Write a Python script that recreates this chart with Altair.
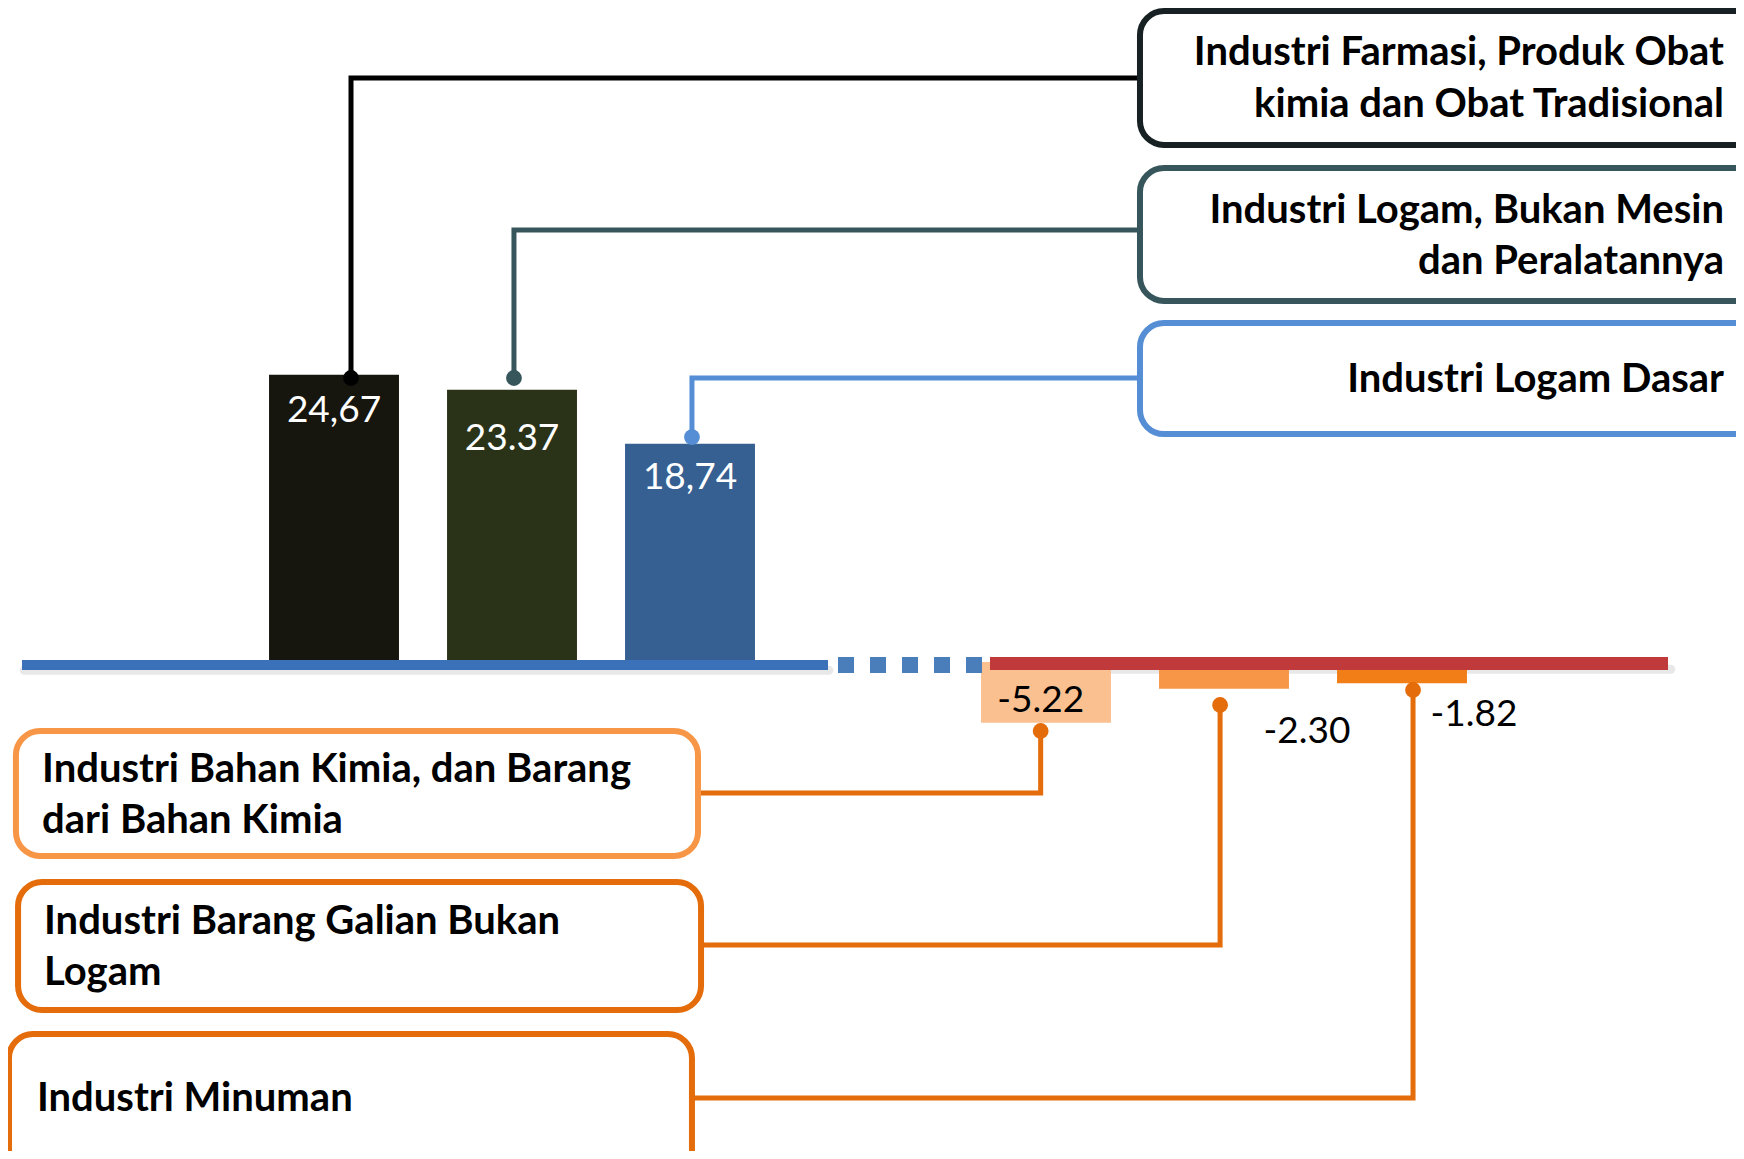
import altair as alt
import pandas as pd

# ---------------- data ----------------
categories = [
    "Industri Farmasi, Produk Obat kimia dan Obat Tradisional",
    "Industri Logam, Bukan Mesin dan Peralatannya",
    "Industri Logam Dasar",
    "Industri Bahan Kimia, dan Barang dari Bahan Kimia",
    "Industri Barang Galian Bukan Logam",
    "Industri Minuman",
]
values = [24.67, 23.37, 18.74, -5.22, -2.30, -1.82]
value_labels = ["24,67", "23.37", "18,74", "-5.22", "-2.30", "-1.82"]
box_lines = [
    ["Industri Farmasi, Produk Obat", "kimia dan Obat Tradisional"],
    ["Industri Logam, Bukan Mesin", "dan Peralatannya"],
    ["Industri Logam Dasar"],
    ["Industri Bahan Kimia, dan Barang", "dari Bahan Kimia"],
    ["Industri Barang Galian Bukan", "Logam"],
    ["Industri Minuman"],
]

# ---------------- styles ----------------
bar_colors = ["#16160F", "#2A3318", "#366092", "#FAC090", "#F79646", "#F27E17"]
box_colors = ["#172022", "#37565C", "#558ED5", "#F79646", "#E46C0A", "#E46C0A"]
line_colors = ["#000000", "#37565C", "#558ED5", "#E46C0A", "#E46C0A", "#E46C0A"]
label_colors = ["white", "white", "white", "black", "black", "black"]
FONT = "Lato"

# ---------------- layout (slot units on x, value units on y) ----------------
slots = [0, 1, 2, 4, 5, 6]
half_w = 0.365
X_DOM = [-1.8315, 7.8764]
Y_DOM = [-41.97, 56.14]
W, H = 1728, 1143

label_xy = [(0, 21.55), (1, 19.14), (2, 15.79), (3.97, -3.35), (5.466, -6.01), (6.404, -4.55)]

# boxes: x0, x1, y_top, y_bottom
boxes = [
    (4.528, 8.3, 55.88, 44.38),
    (4.528, 8.3, 42.40, 30.99),
    (4.528, 8.3, 29.10, 19.57),
    (-1.787, 2.045, -5.92, -16.65),
    (-1.775, 2.062, -18.88, -29.87),
    (-1.826, 2.011, -31.93, -44.6),
]
# text anchor x and line y positions
text_x = [7.809, 7.809, 7.809, -1.640, -1.629, -1.669]
text_y = [[52.27, 47.81], [38.71, 34.33], [24.21], [-9.27, -13.65], [-22.32, -26.70], [-37.51]]
text_align = ["right", "right", "right", "left", "left", "left"]

# connectors: (box side x, horizontal y, vertical x, dot y)
connectors = [
    (4.528, 50.13, 0.0955, 24.38),
    (4.528, 37.08, 1.011, 24.38),
    (4.528, 24.38, 2.011, 19.31),
    (2.045, -11.24, 3.97, -5.92),
    (2.062, -24.29, 4.978, -3.69),
    (2.011, -37.42, 6.062, -2.40),
]

xs = alt.Scale(domain=X_DOM, nice=False, zero=False)
ys = alt.Scale(domain=Y_DOM, nice=False, zero=False)

# ---------------- tables ----------------
bars = pd.DataFrame({
    "cat": categories,
    "value": values,
    "x0": [s - half_w for s in slots],
    "x1": [s + half_w for s in slots],
    "zero": [0.0] * 6,
    "color": bar_colors,
})

labels = pd.DataFrame({
    "label": value_labels,
    "x": [p[0] for p in label_xy],
    "y": [p[1] for p in label_xy],
    "color": label_colors,
})

box_df = pd.DataFrame({
    "x0": [b[0] for b in boxes],
    "x1": [b[1] for b in boxes],
    "yt": [b[2] for b in boxes],
    "yb": [b[3] for b in boxes],
    "color": box_colors,
})

txt_rows = []
for i, lines in enumerate(box_lines):
    for j, ln in enumerate(lines):
        txt_rows.append({"t": ln, "x": text_x[i], "y": text_y[i][j], "side": text_align[i]})
txt_df = pd.DataFrame(txt_rows)

conn_rows = []
dot_rows = []
for i, (bx, hy, vx, dy) in enumerate(connectors):
    conn_rows += [
        {"id": i, "o": 0, "x": bx, "y": hy, "color": line_colors[i]},
        {"id": i, "o": 1, "x": vx, "y": hy, "color": line_colors[i]},
        {"id": i, "o": 2, "x": vx, "y": dy, "color": line_colors[i]},
    ]
    dot_rows.append({"x": vx, "y": dy, "color": line_colors[i]})
conn_df = pd.DataFrame(conn_rows)
dot_df = pd.DataFrame(dot_rows)

base_df = pd.DataFrame({
    "x0": [-1.7528, 3.6854, -1.74, 3.70],
    "x1": [2.7753, 7.4944, 2.78, 7.51],
    "y": [-0.26, -0.13, -0.70, -0.62],
    "kind": ["blue", "red", "shadow", "shadow"],
})
dash_df = pd.DataFrame({"x0": [2.8315], "x1": [3.6404], "y": [-0.26]})

# ---------------- layers ----------------
shadow = alt.Chart(base_df[base_df["kind"] == "shadow"]).mark_rule(
    strokeWidth=9, color="#7F7F7F", opacity=0.18, strokeCap="round"
).encode(x=alt.X("x0:Q", scale=xs, axis=None), x2="x1:Q", y=alt.Y("y:Q", scale=ys, axis=None))

conn = alt.Chart(conn_df).mark_line(strokeWidth=5, strokeCap="butt", strokeJoin="miter").encode(
    x=alt.X("x:Q", scale=xs, axis=None),
    y=alt.Y("y:Q", scale=ys, axis=None),
    detail="id:N",
    order="o:Q",
    color=alt.Color("color:N", scale=None),
)

bar_layer = alt.Chart(bars).mark_rect().encode(
    x=alt.X("x0:Q", scale=xs, axis=None),
    x2="x1:Q",
    y=alt.Y("value:Q", scale=ys, axis=None),
    y2="zero:Q",
    color=alt.Color("color:N", scale=None),
)

blue_line = alt.Chart(base_df[base_df["kind"] == "blue"]).mark_rule(
    strokeWidth=10, color="#3B71B9", strokeCap="butt"
).encode(x=alt.X("x0:Q", scale=xs, axis=None), x2="x1:Q", y=alt.Y("y:Q", scale=ys, axis=None))

red_line = alt.Chart(base_df[base_df["kind"] == "red"]).mark_rule(
    strokeWidth=13, color="#C0393B", strokeCap="butt"
).encode(x=alt.X("x0:Q", scale=xs, axis=None), x2="x1:Q", y=alt.Y("y:Q", scale=ys, axis=None))

dash_line = alt.Chart(dash_df).mark_rule(
    strokeWidth=16, color="#4A7EBB", strokeCap="butt", strokeDash=[16, 16]
).encode(x=alt.X("x0:Q", scale=xs, axis=None), x2="x1:Q", y=alt.Y("y:Q", scale=ys, axis=None))

dots = alt.Chart(dot_df).mark_point(filled=True, size=250, opacity=1, shape="circle").encode(
    x=alt.X("x:Q", scale=xs, axis=None),
    y=alt.Y("y:Q", scale=ys, axis=None),
    color=alt.Color("color:N", scale=None),
)

value_text = alt.Chart(labels).mark_text(
    font=FONT, fontSize=37, baseline="middle", align="center"
).encode(
    x=alt.X("x:Q", scale=xs, axis=None),
    y=alt.Y("y:Q", scale=ys, axis=None),
    text="label:N",
    color=alt.Color("color:N", scale=None),
)

box_layer = alt.Chart(box_df).mark_rect(
    fill="white", strokeWidth=6, cornerRadius=24, clip=True
).encode(
    x=alt.X("x0:Q", scale=xs, axis=None),
    x2="x1:Q",
    y=alt.Y("yt:Q", scale=ys, axis=None),
    y2="yb:Q",
    stroke=alt.Stroke("color:N", scale=None),
)

right_txt = alt.Chart(txt_df[txt_df["side"] == "right"]).mark_text(
    font=FONT, fontSize=40, fontWeight="bold", align="right", baseline="middle", color="black"
).encode(x=alt.X("x:Q", scale=xs, axis=None), y=alt.Y("y:Q", scale=ys, axis=None), text="t:N")

left_txt = alt.Chart(txt_df[txt_df["side"] == "left"]).mark_text(
    font=FONT, fontSize=40, fontWeight="bold", align="left", baseline="middle", color="black"
).encode(x=alt.X("x:Q", scale=xs, axis=None), y=alt.Y("y:Q", scale=ys, axis=None), text="t:N")

chart = alt.layer(
    shadow, conn, bar_layer, blue_line, dash_line, red_line, dots, value_text,
    box_layer, right_txt, left_txt
).properties(
    width=W, height=H, autosize=alt.AutoSizeParams(type="none"), padding=0, background="white"
).configure_view(stroke=None)

chart.save("out.html", embed_options={"renderer": "svg", "actions": False})
